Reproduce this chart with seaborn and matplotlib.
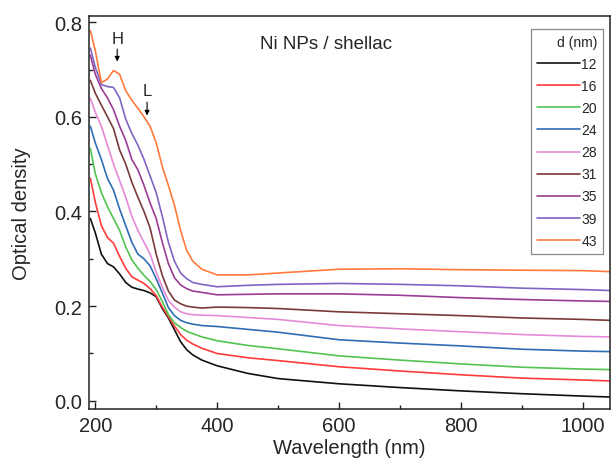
import numpy as np
import pandas as pd
import matplotlib
matplotlib.use("Agg")
import matplotlib.pyplot as plt
import seaborn as sns

#%% data

wavelength = [192, 200, 210, 220, 230, 240, 250, 260, 270, 280, 290, 300, 310,
              320, 330, 340, 350, 360, 375, 400, 450, 500, 600, 700, 800, 900,
              1000, 1045]

od_12 = [0.385, 0.355, 0.31, 0.29, 0.283, 0.268, 0.25, 0.24, 0.236, 0.233,
         0.228, 0.22, 0.195, 0.175, 0.15, 0.125, 0.108, 0.097, 0.086, 0.074,
         0.058, 0.047, 0.036, 0.028, 0.021, 0.015, 0.01, 0.008]
od_16 = [0.47, 0.42, 0.37, 0.345, 0.333, 0.305, 0.28, 0.262, 0.255, 0.248,
         0.237, 0.222, 0.198, 0.178, 0.158, 0.14, 0.128, 0.12, 0.111, 0.1,
         0.091, 0.085, 0.072, 0.063, 0.055, 0.048, 0.044, 0.042]
od_20 = [0.533, 0.48, 0.44, 0.41, 0.385, 0.36, 0.325, 0.298, 0.28, 0.265,
         0.252, 0.235, 0.21, 0.182, 0.165, 0.155, 0.147, 0.142, 0.135, 0.127,
         0.117, 0.11, 0.095, 0.086, 0.078, 0.071, 0.067, 0.066]
od_24 = [0.58, 0.545, 0.51, 0.47, 0.445, 0.405, 0.37, 0.335, 0.31, 0.3,
         0.285, 0.258, 0.228, 0.197, 0.18, 0.17, 0.165, 0.162, 0.159, 0.157,
         0.151, 0.145, 0.129, 0.122, 0.116, 0.109, 0.105, 0.104]
od_28 = [0.639, 0.61, 0.58, 0.54, 0.5, 0.465, 0.43, 0.39, 0.36, 0.335,
         0.31, 0.272, 0.24, 0.212, 0.198, 0.188, 0.184, 0.182, 0.181, 0.18,
         0.176, 0.172, 0.159, 0.152, 0.146, 0.14, 0.136, 0.135]
od_31 = [0.677, 0.65, 0.625, 0.6, 0.575, 0.53, 0.5, 0.462, 0.43, 0.4,
         0.365, 0.31, 0.265, 0.232, 0.213, 0.205, 0.2, 0.198, 0.196, 0.198,
         0.197, 0.195, 0.188, 0.184, 0.18, 0.175, 0.172, 0.17]
od_35 = [0.73, 0.69, 0.66, 0.64, 0.615, 0.58, 0.55, 0.51, 0.488, 0.455,
         0.418, 0.385, 0.335, 0.29, 0.26, 0.245, 0.237, 0.232, 0.229, 0.224,
         0.225, 0.226, 0.226, 0.223, 0.218, 0.214, 0.211, 0.21]
od_39 = [0.745, 0.705, 0.668, 0.664, 0.662, 0.64, 0.595, 0.565, 0.54, 0.51,
         0.475, 0.44, 0.39, 0.335, 0.295, 0.27, 0.258, 0.25, 0.246, 0.241,
         0.244, 0.246, 0.248, 0.246, 0.243, 0.238, 0.235, 0.233]
od_43 = [0.782, 0.74, 0.672, 0.68, 0.698, 0.69, 0.655, 0.635, 0.618, 0.6,
         0.58, 0.545, 0.495, 0.455, 0.413, 0.36, 0.318, 0.295, 0.278, 0.266,
         0.266, 0.27, 0.278, 0.279, 0.277, 0.276, 0.275, 0.273]

sizes = ['12', '16', '20', '24', '28', '31', '35', '39', '43']
colors = ['#111111', '#ff3b3b', '#52c452', '#2f6db5', '#e58ad8',
          '#7a3a3a', '#9a3d94', '#8064c4', '#ff7a3c']

series = [od_12, od_16, od_20, od_24, od_28, od_31, od_35, od_39, od_43]
df = pd.concat([pd.DataFrame({'wl': wavelength, 'od': s, 'd': d})
                for d, s in zip(sizes, series)], ignore_index=True)

#%% plot

sns.set_style("ticks")
plt.rcParams['font.family'] = ['Liberation Sans', 'DejaVu Sans']

fig = plt.figure(figsize=(6.15, 4.6), dpi=100)
ax = fig.add_axes([0.145, 0.109, 0.847, 0.854])

sns.lineplot(data=df, x='wl', y='od', hue='d', hue_order=sizes,
             palette=colors, linewidth=1.2, ax=ax, sort=True,
             estimator=None, legend=True)

ax.set_xlim(190, 1045)
ax.set_ylim(-0.017, 0.813)
ax.set_xticks([200, 400, 600, 800, 1000])
ax.set_xticks([300, 500, 700, 900], minor=True)
ax.set_yticks([0.0, 0.2, 0.4, 0.6, 0.8])
ax.set_yticks([0.1, 0.3, 0.5, 0.7], minor=True)
ax.set_yticklabels(['0.0', '0.2', '0.4', '0.6', '0.8'])
ax.tick_params(which='both', direction='in', labelsize=14.5, color='#222222')
ax.tick_params(which='major', length=5, width=1)
ax.tick_params(which='minor', length=3, width=1)
ax.tick_params(axis='y', pad=5)
ax.tick_params(axis='x', pad=5)
for sp in ax.spines.values():
    sp.set_linewidth(1.1)
    sp.set_color('#222222')

ax.set_xlabel('Wavelength (nm)', fontsize=14.5, labelpad=2)
ax.set_ylabel('Optical density', fontsize=14.5, labelpad=17)

ax.text(0.455, 0.93, 'Ni NPs / shellac', transform=ax.transAxes,
        ha='center', va='center', fontsize=13.5)

ax.annotate('', xy=(236, 0.711), xytext=(236, 0.749),
            arrowprops=dict(arrowstyle='-|>', color='black', lw=0.8,
                            mutation_scale=7))
ax.text(236, 0.766, 'H', ha='center', va='center', fontsize=12)
ax.annotate('', xy=(285, 0.597), xytext=(285, 0.637),
            arrowprops=dict(arrowstyle='-|>', color='black', lw=0.8,
                            mutation_scale=7))
ax.text(285, 0.656, 'L', ha='center', va='center', fontsize=12)

leg = ax.legend(title='d (nm)', loc='upper right',
                bbox_to_anchor=(1.0, 0.985), fontsize=10,
                title_fontsize=10, frameon=True, fancybox=False,
                edgecolor='#888888', framealpha=1, handlelength=3.1,
                handletextpad=0.1, labelspacing=0.58, borderpad=0.45,
                alignment='right')
leg.get_frame().set_linewidth(0.9)

plt.savefig('out.png', dpi=100)
